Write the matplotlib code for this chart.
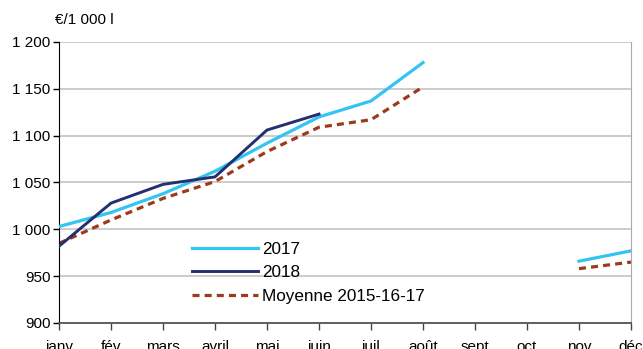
import numpy as np
import matplotlib.pyplot as plt

plt.rcParams['font.family'] = ['Liberation Sans', 'DejaVu Sans']

# mois et prix (€/1 000 l)
mois = ['janv', 'fév', 'mars', 'avril', 'mai', 'juin', 'juil', 'août',
        'sept', 'oct', 'nov', 'déc']
nan = np.nan
prix_2017 = [1003, 1018, 1038, 1062, 1092, 1120, 1137, 1178, nan, nan, 966, 977]
prix_2018 = [982, 1028, 1048, 1056, 1106, 1123, nan, nan, nan, nan, nan, nan]
moyenne = [985, 1010, 1033, 1051, 1083, 1109, 1117, 1152, nan, nan, 958, 965]

fig = plt.figure(figsize=(6.43, 3.49), dpi=100)
ax = fig.add_axes([0.0918, 0.0745, 0.8895, 0.8052])

x = np.arange(len(mois))
ax.plot(x, prix_2017, color='#33c4f2', lw=2.3, label='2017', zorder=3)
ax.plot(x, prix_2018, color='#232f6e', lw=2.1, label='2018', zorder=4)
ax.plot(x, moyenne, color='#9c3a1c', lw=2.3, ls=(0, (2.2, 1.6)),
        label='Moyenne 2015-16-17', zorder=2)

ax.set_xlim(0, 11)
ax.set_ylim(900, 1200)
ax.set_xticks(x)
ax.set_xticklabels(mois)
yt = np.arange(900, 1201, 50)
ax.set_yticks(yt)
ax.set_yticklabels([f'{v:,}'.replace(',', ' ') for v in yt])
ax.tick_params(labelsize=11, length=4, width=1, pad=2)
ax.tick_params(axis='x', colors='#444444', labelcolor='black', length=5, pad=7)

ax.grid(axis='y', color='#c8c8c8', lw=1.3)
ax.set_axisbelow(True)
ax.spines['top'].set_visible(False)
ax.spines['left'].set_color('black')
ax.spines['bottom'].set_color('#555555')
ax.spines['bottom'].set_linewidth(1.3)
ax.spines['right'].set_color('#aaaaaa')

ax.text(-0.007, 1.078, '€/1 000 l', transform=ax.transAxes, fontsize=11,
        ha='left', va='center')

ax.legend(loc='upper left', bbox_to_anchor=(0.22, 0.313), frameon=False,
          fontsize=12.3, handlelength=3.86, handletextpad=0.25,
          labelspacing=0.5, borderaxespad=0)

fig.savefig('out.png', dpi=100)
